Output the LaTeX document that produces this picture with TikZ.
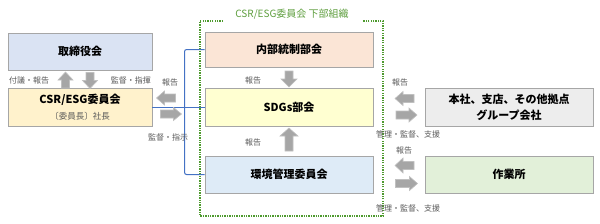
\documentclass[tikz,border=0pt]{standalone}
\usepackage{fontspec}
\setmainfont{Noto Sans CJK JP}
\definecolor{boxborder}{HTML}{A6A6A6}
\definecolor{cboard}{HTML}{DAE3F3}
\definecolor{ccsr}{HTML}{FFF2CC}
\definecolor{cnaibu}{HTML}{FBE5D6}
\definecolor{csdgs}{HTML}{FFFFD1}
\definecolor{ckankyo}{HTML}{DEEBF7}
\definecolor{chonsha}{HTML}{EDEDED}
\definecolor{csagyo}{HTML}{E2F0D9}
\definecolor{labgray}{HTML}{595959}
\definecolor{busblue}{HTML}{4472C4}
\definecolor{dotgreen}{HTML}{4E9A2E}
\definecolor{titlegreen}{HTML}{5E9E3E}
\definecolor{arrfill}{HTML}{A6A6A6}
\definecolor{arrdraw}{HTML}{C0C0C0}
\begin{document}
\begin{tikzpicture}[x=1pt,y=-1pt,
  box/.style={draw=boxborder, line width=0.9pt, inner sep=0pt, align=center,
    font=\fontsize{11}{13}\selectfont\bfseries},
  widebox/.style={box, minimum width=144pt},
  sidebox/.style={box, minimum width=168pt},
  lab/.style={font=\fontsize{8}{9.5}\selectfont, text=labgray, inner sep=0pt},
  blockarrow/.style={fill=arrfill, draw=arrdraw, line width=0.6pt},
  pics/barrow/.style 2 args={code={
    \path[blockarrow] (-#1/2,-4) -- (#1/2-8,-4) -- (#1/2-8,-#2/2) -- (#1/2,0)
      -- (#1/2-8,#2/2) -- (#1/2-8,4) -- (-#1/2,4) -- cycle;}},
  bus/.style={draw=busblue, line width=1pt},
  frame/.style={draw=dotgreen, line width=1.4pt, dash pattern=on 1.3pt off 1.1pt}
]
\useasboundingbox (0,0) rectangle (600,223);

% left boxes
\node[widebox, fill=cboard, minimum height=37pt] (board) at (80,51.5) {取締役会};
\node[widebox, fill=ccsr, minimum height=38pt] (csr) at (80,107)
  {CSR/ESG委員会\\[3pt]{\fontsize{8.5}{10}\selectfont\mdseries\color{labgray}〔委員長〕社長}};

% middle boxes
\node[sidebox, fill=cnaibu, minimum height=35pt] (naibu) at (289,49.5) {内部統制部会};
\node[sidebox, fill=csdgs, minimum height=38pt] (sdgs) at (289,107) {SDGs部会};
\node[sidebox, fill=ckankyo, minimum height=37pt] (kankyo) at (289,174.5) {環境管理委員会};

% right boxes
\node[sidebox, fill=chonsha, minimum height=38pt] (honsha) at (509,107)
  {本社、支店、その他拠点\\[3pt]グループ会社};
\node[sidebox, fill=csagyo, minimum height=37pt] (sagyo) at (509,174.5) {作業所};

% frame of sub-organisation
\node[font=\fontsize{10}{12}\selectfont, text=titlegreen, inner sep=0pt] (title) at (292,14) {CSR/ESG委員会 下部組織};
\coordinate (ftl) at (200,21);
\coordinate (ftr) at (383,21);
\coordinate (fbl) at (200,216);
\coordinate (fbr) at (383,216);
\coordinate (gapl) at (223,21);
\coordinate (gapr) at (363,21);
\draw[frame] (gapl) -- (ftl) -- (fbl) -- (fbr) -- (ftr) -- (gapr);

% blue bus
\draw[bus] (csr.east) -- (sdgs.west);
\draw[bus, rounded corners=2pt] (naibu.west) -- ++(-20,0) |- (kankyo.west);

% block arrows
\pic (a1) [rotate=90] at (65.5,80) {barrow={16}{15}};
\pic (a2) [rotate=270] at (90,80.5) {barrow={16}{15}};
\pic (a3) [rotate=180] at (166,98) {barrow={19}{14}};
\pic (a4) at (171,114) {barrow={21}{13}};
\pic (a5) [rotate=270] at (289,79) {barrow={16}{16}};
\pic (a6) [rotate=90] at (289,139.5) {barrow={23}{18}};
\pic (a7) [rotate=180] at (404.5,98.5) {barrow={19}{14}};
\pic (a8) at (406.5,115) {barrow={21}{14}};
\pic (a9) [rotate=180] at (404.5,165.5) {barrow={19}{15}};
\pic (a10) at (406.5,183.5) {barrow={22}{14}};

% labels
\node[lab, anchor=west] (l1) at (9,80) {付議・報告};
\node[lab, anchor=east] (l2) at (151,80) {監督・指揮};
\node[lab] (l3) at (170,82) {報告};
\node[lab] (l4) at (168,137) {監督・指示};
\node[lab] (l5) at (253,80) {報告};
\node[lab] (l6) at (253,142) {報告};
\node[lab] (l7) at (400,82) {報告};
\node[lab] (l8) at (408,134) {管理・監督、支援};
\node[lab] (l9) at (404,150) {報告};
\node[lab] (l10) at (408,208) {管理・監督、支援};
\end{tikzpicture}
\end{document}
